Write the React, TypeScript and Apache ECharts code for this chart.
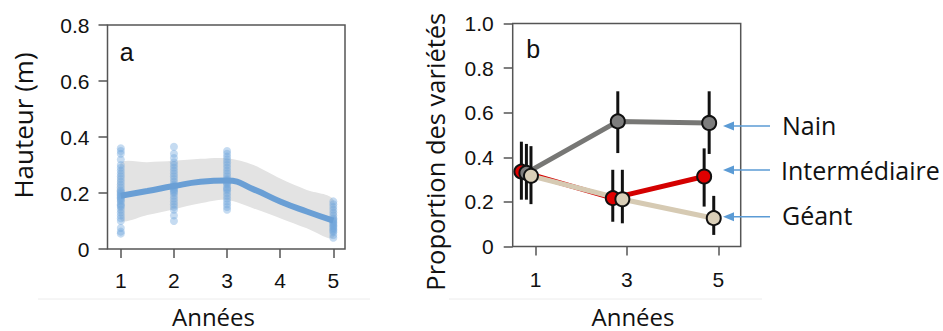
import React, { useEffect, useRef } from "react";
import * as echarts from "echarts";

// ---------- Panel a : heights ----------
const HEIGHT_YEARS = [1, 2, 3, 5];
const HEIGHTS_Y1 = [0.055, 0.062, 0.075, 0.1, 0.11, 0.12, 0.13, 0.14, 0.15, 0.155, 0.16, 0.17, 0.175, 0.18, 0.185, 0.19, 0.195, 0.2, 0.205, 0.21, 0.22, 0.23, 0.24, 0.25, 0.26, 0.27, 0.28, 0.29, 0.3, 0.32, 0.34, 0.35, 0.36];
const HEIGHTS_Y2 = [0.1, 0.12, 0.14, 0.15, 0.16, 0.17, 0.18, 0.19, 0.2, 0.205, 0.21, 0.215, 0.22, 0.225, 0.23, 0.24, 0.25, 0.26, 0.27, 0.28, 0.29, 0.3, 0.31, 0.325, 0.34, 0.365];
const HEIGHTS_Y3 = [0.14, 0.15, 0.16, 0.17, 0.18, 0.19, 0.2, 0.21, 0.215, 0.22, 0.23, 0.235, 0.24, 0.245, 0.25, 0.26, 0.27, 0.28, 0.29, 0.3, 0.31, 0.32, 0.33, 0.34, 0.35];
const HEIGHTS_Y5 = [0.04, 0.05, 0.06, 0.065, 0.07, 0.075, 0.08, 0.085, 0.09, 0.095, 0.1, 0.105, 0.11, 0.12, 0.13, 0.14, 0.15, 0.16, 0.17];
const HEIGHT_GROUPS = [HEIGHTS_Y1, HEIGHTS_Y2, HEIGHTS_Y3, HEIGHTS_Y5];

const FIT_X = [1, 1.5, 2, 2.5, 3, 3.5, 4, 4.5, 5];
const FIT_MEAN = [0.19, 0.207, 0.225, 0.24, 0.245, 0.213, 0.17, 0.134, 0.101];
const FIT_UPPER = [0.306, 0.31, 0.315, 0.322, 0.324, 0.3, 0.252, 0.211, 0.177];
const FIT_LOWER = [0.104, 0.121, 0.142, 0.163, 0.175, 0.145, 0.11, 0.074, 0.04];

const A_X_TICKS = [1, 2, 3, 4, 5];

// ---------- Panel b : proportions ----------
const PROP_YEARS = [1, 3, 5];
const B_X_TICKS = [1, 3, 5];
const VARIETIES = ["Intermédiaire", "Nain", "Géant"];
const PROP_INTER = [0.336, 0.217, 0.314];
const PROP_INTER_LO = [0.21, 0.111, 0.179];
const PROP_INTER_HI = [0.47, 0.344, 0.44];
const PROP_NAIN = [0.33, 0.561, 0.554];
const PROP_NAIN_LO = [0.21, 0.419, 0.415];
const PROP_NAIN_HI = [0.46, 0.696, 0.696];
const PROP_GEANT = [0.317, 0.212, 0.127];
const PROP_GEANT_LO = [0.19, 0.104, 0.052];
const PROP_GEANT_HI = [0.45, 0.344, 0.227];

const PROP_VALUES = [PROP_INTER, PROP_NAIN, PROP_GEANT];
const PROP_LO = [PROP_INTER_LO, PROP_NAIN_LO, PROP_GEANT_LO];
const PROP_HI = [PROP_INTER_HI, PROP_NAIN_HI, PROP_GEANT_HI];

// styles
const DODGE = [-0.31, -0.2, -0.1];
const LINE_COLORS = ["#d40000", "#777775", "#d6cab3"];
const MARKER_COLORS = ["#e00000", "#7d7d7d", "#dacfb8"];
const LINE_Z = [3, 2, 4];

const SANS = '"Liberation Sans", Arial, sans-serif';
const FR = '"Open Sans", sans-serif';

export default function App() {
  const ref = useRef<HTMLDivElement>(null);

  useEffect(() => {
    if (!ref.current) return;
    const chart = echarts.init(ref.current, undefined, { renderer: "svg" });

    const tickLabel = {
      color: "#111",
      fontFamily: SANS,
      fontSize: 21,
    };
    const boxColor = "#555";

    const scatterData: number[][] = [];
    HEIGHT_YEARS.forEach((yr, i) => {
      HEIGHT_GROUPS[i].forEach((h) => scatterData.push([yr, h]));
    });

    const bandData = FIT_X.map((x, i) => [x, FIT_LOWER[i], FIT_UPPER[i]]);

    const series: any[] = [
      {
        type: "custom",
        name: "IC",
        xAxisIndex: 0,
        yAxisIndex: 0,
        encode: { x: 0, y: [1, 2] },
        data: bandData,
        renderItem: (params: any, api: any) => {
          if (params.dataIndex !== 0) return null;
          const upper = bandData.map((d) => api.coord([d[0], d[2]]));
          const lower = bandData
            .slice()
            .reverse()
            .map((d) => api.coord([d[0], d[1]]));
          return {
            type: "polygon",
            shape: { points: [...upper, ...lower], smooth: 0.3 },
            style: { fill: "#e3e3e3" },
          };
        },
        z: 1,
      },
      {
        type: "scatter",
        xAxisIndex: 0,
        yAxisIndex: 0,
        symbolSize: 8,
        itemStyle: { color: "rgba(110,165,220,0.5)" },
        data: scatterData,
        z: 2,
      },
      {
        type: "line",
        xAxisIndex: 0,
        yAxisIndex: 0,
        smooth: true,
        symbol: "none",
        lineStyle: { color: "#6a9fd5", width: 6 },
        data: FIT_X.map((x, i) => [x, FIT_MEAN[i]]),
        z: 3,
      },
    ];

    VARIETIES.forEach((name, v) => {
      series.push({
        type: "line",
        name,
        xAxisIndex: 1,
        yAxisIndex: 1,
        symbol: "none",
        lineStyle: { color: LINE_COLORS[v], width: 5 },
        data: PROP_YEARS.map((yr, i) => [yr + DODGE[v], PROP_VALUES[v][i]]),
        z: LINE_Z[v],
      });
    });
    VARIETIES.forEach((name, v) => {
      series.push({
        type: "custom",
        name: name + " IC",
        xAxisIndex: 1,
        yAxisIndex: 1,
        encode: { x: 0, y: [1, 2] },
        data: PROP_YEARS.map((yr, i) => [yr + DODGE[v], PROP_LO[v][i], PROP_HI[v][i]]),
        renderItem: (params: any, api: any) => {
          const x = api.value(0);
          const p1 = api.coord([x, api.value(1)]);
          const p2 = api.coord([x, api.value(2)]);
          return {
            type: "line",
            shape: { x1: p1[0], y1: p1[1], x2: p2[0], y2: p2[1] },
            style: { stroke: "#111", lineWidth: 3 },
          };
        },
        z: 5,
      });
    });
    VARIETIES.forEach((name, v) => {
      series.push({
        type: "scatter",
        name: name + " pts",
        xAxisIndex: 1,
        yAxisIndex: 1,
        symbolSize: 14,
        itemStyle: {
          color: MARKER_COLORS[v],
          borderColor: "#111",
          borderWidth: 2,
          opacity: 1,
        },
        data: PROP_YEARS.map((yr, i) => [yr + DODGE[v], PROP_VALUES[v][i]]),
        z: 6 + v,
      });
    });

    const arrow = (y: number) => [
      {
        type: "line",
        shape: { x1: 770, y1: y, x2: 732, y2: y },
        style: { stroke: "#5b9bd5", lineWidth: 1.5 },
        z: 100,
      },
      {
        type: "polygon",
        shape: { points: [[723, y], [734, y - 4.5], [734, y + 4.5]] },
        style: { fill: "#5b9bd5" },
        z: 100,
      },
    ];

    const txt = (
      text: string,
      x: number,
      y: number,
      size: number,
      family: string,
      align = "center",
      rotation = 0
    ) => ({
      type: "text",
      x,
      y,
      rotation,
      style: {
        text,
        fontSize: size,
        fontFamily: family,
        lineHeight: size,
        fill: "#111",
        align,
        textAlign: align,
        verticalAlign: "middle",
        textVerticalAlign: "middle",
      },
      z: 100,
    });

    chart.setOption({
      animation: false,
      backgroundColor: "#fff",
      grid: [
        {
          left: 107.5,
          top: 25,
          width: 237.5,
          height: 224,
          show: true,
          borderColor: boxColor,
          borderWidth: 1.5,
          backgroundColor: "transparent",
          outerBoundsMode: "none",
        },
        {
          left: 512.7,
          top: 23.5,
          width: 228,
          height: 223,
          show: true,
          borderColor: boxColor,
          borderWidth: 1.5,
          backgroundColor: "transparent",
          outerBoundsMode: "none",
        },
      ],
      xAxis: [
        {
          type: "value",
          gridIndex: 0,
          min: 0.75,
          max: 5.22,
          axisLine: { show: false },
          splitLine: { show: false },
          axisTick: {
            show: true,
            length: 9,
            customValues: A_X_TICKS,
            lineStyle: { color: boxColor, width: 1.5 },
          },
          axisLabel: { ...tickLabel, margin: 21, customValues: A_X_TICKS },
        },
        {
          type: "value",
          gridIndex: 1,
          min: 0.5,
          max: 5.49,
          axisLine: { show: false },
          splitLine: { show: false },
          axisTick: {
            show: true,
            length: 9,
            customValues: B_X_TICKS,
            lineStyle: { color: boxColor, width: 1.5 },
          },
          axisLabel: { ...tickLabel, margin: 22, customValues: B_X_TICKS },
        },
      ],
      yAxis: [
        {
          type: "value",
          gridIndex: 0,
          min: 0,
          max: 0.8,
          interval: 0.2,
          axisLine: { show: false },
          splitLine: { show: false },
          axisTick: { show: true, length: 9, lineStyle: { color: boxColor, width: 1.5 } },
          axisLabel: {
            ...tickLabel,
            margin: 18,
            formatter: (v: number) => (v === 0 ? "0" : v.toFixed(1)),
          },
        },
        {
          type: "value",
          gridIndex: 1,
          min: 0,
          max: 1,
          interval: 0.2,
          axisLine: { show: false },
          splitLine: { show: false },
          axisTick: { show: true, length: 9, lineStyle: { color: boxColor, width: 1.5 } },
          axisLabel: {
            ...tickLabel,
            margin: 19,
            formatter: (v: number) => (v === 0 ? "0" : v.toFixed(1)),
          },
        },
      ],
      series,
      graphic: [
        { type: "line", shape: { x1: 38, y1: 299, x2: 370, y2: 299 }, style: { stroke: "#ececec", lineWidth: 1 } },
        { type: "line", shape: { x1: 449, y1: 299, x2: 762, y2: 299 }, style: { stroke: "#ececec", lineWidth: 1 } },
        txt("a", 126.7, 51.7, 25, SANS),
        txt("b", 533.3, 49.3, 25, SANS),
        txt("Hauteur (m)", 22.5, 125.5, 26, FR, "center", Math.PI / 2),
        txt("Proportion des variétés", 434.7, 151.7, 25.5, FR, "center", Math.PI / 2),
        txt("Années", 213.5, 316, 24, FR),
        txt("Années", 633, 316, 24, FR),
        txt("Nain", 782, 125, 25, FR, "left"),
        txt("Intermédiaire", 781, 170, 25, FR, "left"),
        txt("Géant", 782, 215, 25, FR, "left"),
        ...arrow(126),
        ...arrow(170),
        ...arrow(216.7),
      ],
    });

    return () => chart.dispose();
  }, []);

  return (
    <div
      ref={ref}
      style={{ position: "absolute", left: 0, top: 0, width: 943, height: 331 }}
    />
  );
}
